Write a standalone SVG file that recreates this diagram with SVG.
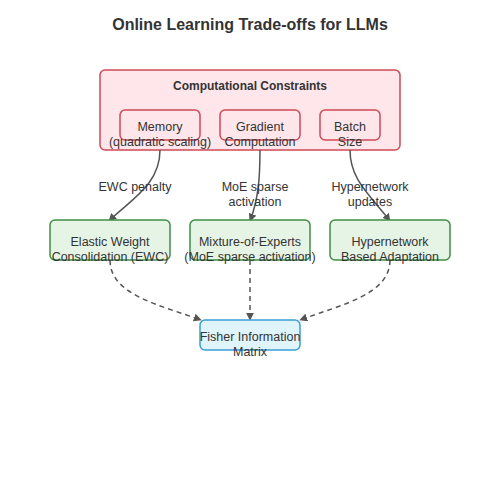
<svg xmlns="http://www.w3.org/2000/svg" width="500" height="500" viewBox="0 0 500 500">
<style>
text{font-family:"Liberation Sans",Arial,sans-serif;fill:#333;font-size:12.5px;text-anchor:middle}
.title{font-size:16px;font-weight:bold}
.hdr{font-size:12px;font-weight:bold}
.red{fill:#ffe6ea;stroke:#d04a55;stroke-width:1.5}
.green{fill:#e6f4e6;stroke:#3f8f45;stroke-width:1.5}
.blue{fill:#e0f4fb;stroke:#3a9fd6;stroke-width:1.5}
.edge{fill:none;stroke:#555;stroke-width:1.5}
.dash{stroke-dasharray:5,4}
</style>
<defs>
<marker id="arr" viewBox="0 0 10 10" refX="9" refY="5" markerWidth="8" markerHeight="8" markerUnits="userSpaceOnUse" orient="auto">
<path d="M0,0 L10,5 L0,10 z" fill="#555"/>
</marker>
</defs>
<rect width="500" height="500" fill="#fff"/>
<text class="title" x="250" y="30">Online Learning Trade-offs for LLMs</text>
<g id="constraints">
<rect class="red" x="100" y="70" width="300" height="80" rx="5"/>
<text class="hdr" x="250" y="90">Computational Constraints</text>
</g>
<g id="memory">
<rect class="red" x="120" y="110" width="80" height="30" rx="5"/>
<text x="160" y="130.5">Memory</text>
<text x="160" y="145.5">(quadratic scaling)</text>
</g>
<g id="gradient">
<rect class="red" x="220" y="110" width="80" height="30" rx="5"/>
<text x="260" y="130.5">Gradient</text>
<text x="260" y="145.5">Computation</text>
</g>
<g id="batch">
<rect class="red" x="320" y="110" width="60" height="30" rx="5"/>
<text x="350" y="130.5">Batch</text>
<text x="350" y="145.5">Size</text>
</g>
<g id="connectors">
<path class="edge" d="M160,150 C160,185 130,200 109,221" marker-end="url(#arr)"/>
<path class="edge" d="M260,150 C260,180 258,200 250,221" marker-end="url(#arr)"/>
<path class="edge" d="M350,150 C350,180 370,195 390,221" marker-end="url(#arr)"/>
<path class="edge dash" d="M110,260 C110,295 160,305 201,320" marker-end="url(#arr)"/>
<path class="edge dash" d="M250,260 L250,320" marker-end="url(#arr)"/>
<path class="edge dash" d="M390,260 C390,295 340,305 300,320" marker-end="url(#arr)"/>
<text x="135" y="190.5">EWC penalty</text>
<text x="255" y="190.5">MoE sparse</text>
<text x="255" y="205.5">activation</text>
<text x="370" y="190.5">Hypernetwork</text>
<text x="370" y="205.5">updates</text>
</g>
<g id="ewc">
<rect class="green" x="50" y="220" width="120" height="40" rx="5"/>
<text x="110" y="245.5">Elastic Weight</text>
<text x="110" y="260.5">Consolidation (EWC)</text>
</g>
<g id="moe">
<rect class="green" x="190" y="220" width="120" height="40" rx="5"/>
<text x="250" y="245.5">Mixture-of-Experts</text>
<text x="250" y="260.5">(MoE sparse activation)</text>
</g>
<g id="hyper">
<rect class="green" x="330" y="220" width="120" height="40" rx="5"/>
<text x="390" y="245.5">Hypernetwork</text>
<text x="390" y="260.5">Based Adaptation</text>
</g>
<g id="fisher">
<rect class="blue" x="200" y="320" width="100" height="30" rx="5"/>
<text x="250" y="340.5">Fisher Information</text>
<text x="250" y="355.5">Matrix</text>
</g>
</svg>
